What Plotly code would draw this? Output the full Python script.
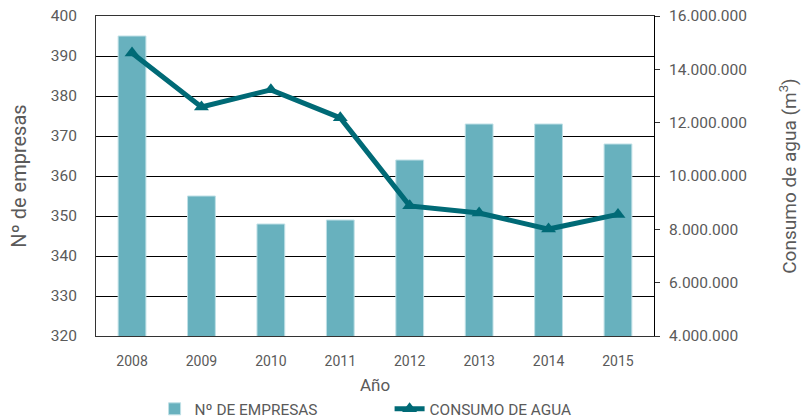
import plotly.graph_objects as go

# Annual series
years = ["2008", "2009", "2010", "2011", "2012", "2013", "2014", "2015"]
num_empresas = [395, 355, 348, 349, 364, 373, 373, 368]
consumo_agua = [14610000, 12590000, 13230000, 12180000, 8880000, 8610000, 8010000, 8560000]

# Axis ticks
left_ticks = [320, 330, 340, 350, 360, 370, 380, 390, 400]
right_ticks = [4000000, 6000000, 8000000, 10000000, 12000000, 14000000, 16000000]

BAR_COLOR = "#68B1BE"
LINE_COLOR = "#006A76"
TEXT_COLOR = "#5a5a5a"
FONT = "Roboto"

fig = go.Figure()

fig.add_trace(go.Bar(
    x=years, y=num_empresas, name="Nº DE EMPRESAS",
    marker=dict(color=BAR_COLOR, line=dict(color="#BFE0E6", width=1)),
    width=0.4, yaxis="y",
))

fig.add_trace(go.Scatter(
    x=years, y=consumo_agua, name="CONSUMO DE AGUA",
    mode="lines+markers",
    line=dict(color=LINE_COLOR, width=5),
    marker=dict(symbol="triangle-up", size=13, color=LINE_COLOR),
    yaxis="y2",
))

fig.update_layout(
    width=801, height=420,
    margin=dict(l=96, r=147, t=16, b=84, autoexpand=False),
    plot_bgcolor="white", paper_bgcolor="white",
    separators=",.",
    font=dict(family=FONT, color=TEXT_COLOR, size=15),
    showlegend=True,
    legend=dict(
        orientation="h", x=0.105, xanchor="left", y=-0.176, yanchor="top",
        font=dict(size=15.4, color=TEXT_COLOR), entrywidth=190,
        itemwidth=30, traceorder="normal",
    ),
    xaxis=dict(
        showline=True, linecolor="#333333", linewidth=1, mirror=True,
        showgrid=False, ticks="", ticklabelstandoff=12,
        tickfont=dict(size=14),
        title=dict(text="Año", font=dict(size=17), standoff=11),
    ),
    yaxis=dict(
        range=[320, 400], tickvals=left_ticks,
        showgrid=True, gridcolor="#000000", gridwidth=1,
        showline=True, linecolor="#333333", linewidth=1,
        ticks="", ticklabelstandoff=15, tickfont=dict(size=15.5),
        zeroline=False,
        title=dict(text="Nº de empresas", font=dict(size=20), standoff=18),
    ),
    yaxis2=dict(
        overlaying="y", side="right",
        range=[4000000, 16000000], tickvals=right_ticks, tickformat=",d",
        showgrid=False, zeroline=False,
        showline=True, linecolor="#000000", linewidth=1,
        ticks="outside", ticklen=5, tickcolor="#333333",
        ticklabelstandoff=6, tickfont=dict(size=15.5),
        title=dict(text="Consumo de agua (m<sup>3</sup>)", font=dict(size=19), standoff=36),
    ),
    bargap=0.6,
)

fig.write_html("out.html")
